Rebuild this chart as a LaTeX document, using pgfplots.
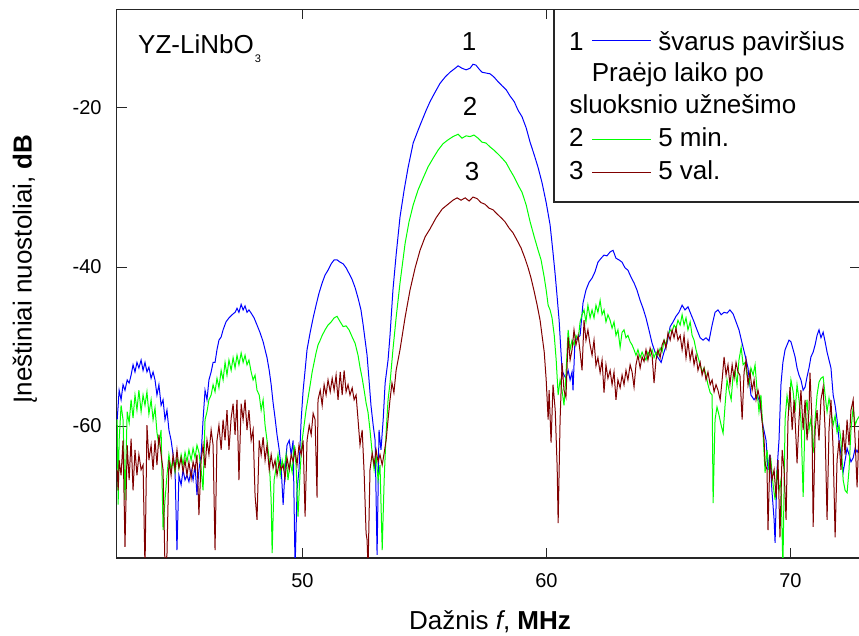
\documentclass[border=0pt]{standalone}
\usepackage{pgfplots}
\pgfplotsset{compat=1.18}
\usepackage{fontspec}
\setmainfont{Liberation Sans}
\definecolor{cblue}{RGB}{0,0,255}
\definecolor{cgreen}{RGB}{0,255,0}
\definecolor{cred}{RGB}{128,0,0}
\newcommand\fbig{\fontsize{26}{31}\selectfont}
\begin{document}
\begin{tikzpicture}
\begin{axis}[
 at={(0,0)}, anchor=south west,
 scale only axis, width=743.3pt, height=548.7pt,
 xmin=42.39, xmax=72.85, ymin=-76.6, ymax=-7.585,
 xtick={50,60,70}, ytick={-60,-40,-20},
 tick pos=both, tick align=inside, major tick length=10pt,
 axis line style={line width=1.2pt, black!85},
 every tick/.style={line width=1pt, black!85},
 clip mode=individual,
 /pgf/number format/assume math mode=true,
 tick label style={font=\fontsize{20}{24}\selectfont, inner sep=0pt},
 yticklabel style={xshift=-15pt},
 xticklabel style={yshift=-15pt},
 xlabel={Dažnis \textit{f}, \textbf{MHz}},
 ylabel={Įneštiniai nuostoliai, \textbf{dB}},
 xlabel style={font=\fbig, at={(axis description cs:0.5022,-0.1312)}, anchor=base, inner sep=0pt},
 ylabel style={font=\fbig, at={(axis description cs:-0.1234,0.5267)}, anchor=center, inner sep=0pt},
 every axis plot/.append style={line width=1pt},
]
\addplot[cblue] coordinates {(42.41,-59.2)(42.45,-57.4)(42.49,-55.5)(42.57,-56.7)(42.65,-54.8)(42.73,-55.5)(42.82,-54.2)(42.90,-54.6)(42.98,-53.6)(43.06,-52.3)(43.14,-53.2)(43.22,-52.0)(43.30,-52.7)(43.39,-51.7)(43.47,-53.0)(43.55,-52.0)(43.63,-53.2)(43.71,-52.6)(43.80,-54.0)(43.88,-53.2)(43.96,-54.2)(44.04,-56.1)(44.12,-54.8)(44.21,-57.4)(44.29,-56.7)(44.37,-59.2)(44.45,-58.0)(44.53,-60.5)(44.62,-61.8)(44.70,-63.6)(44.78,-65.5)(44.86,-75.6)(44.94,-66.2)(45.03,-67.4)(45.11,-65.5)(45.19,-66.8)(45.27,-66.2)(45.35,-67.0)(45.44,-65.5)(45.52,-66.8)(45.60,-64.9)(45.68,-68.7)(45.76,-65.5)(45.85,-63.6)(45.93,-59.2)(46.01,-55.5)(46.09,-56.7)(46.17,-54.2)(46.26,-53.2)(46.34,-52.0)(46.42,-52.0)(46.50,-50.4)(46.58,-49.2)(46.67,-48.8)(46.75,-47.9)(46.87,-46.9)(46.99,-46.4)(47.12,-46.0)(47.24,-45.7)(47.32,-45.2)(47.40,-45.7)(47.49,-44.7)(47.57,-45.4)(47.65,-44.9)(47.73,-45.7)(47.81,-45.4)(47.90,-45.8)(48.02,-46.4)(48.14,-47.3)(48.27,-48.3)(48.39,-49.4)(48.47,-50.4)(48.55,-51.4)(48.64,-53.0)(48.72,-54.8)(48.80,-57.1)(48.88,-59.0)(48.96,-61.1)(49.05,-63.0)(49.13,-65.3)(49.21,-69.9)(49.29,-65.5)(49.37,-62.4)(49.46,-61.8)(49.54,-63.6)(49.62,-61.8)(49.70,-78.0)(49.78,-68.1)(49.86,-65.5)(49.95,-59.2)(50.03,-55.5)(50.11,-53.0)(50.19,-50.4)(50.32,-48.2)(50.44,-46.4)(50.56,-44.8)(50.68,-43.3)(50.81,-42.0)(50.93,-41.0)(51.05,-40.4)(51.18,-39.6)(51.30,-39.1)(51.42,-39.1)(51.55,-39.4)(51.67,-39.6)(51.79,-40.1)(51.91,-40.8)(52.04,-41.6)(52.16,-42.6)(52.28,-43.9)(52.40,-45.4)(52.49,-47.3)(52.57,-49.2)(52.65,-51.1)(52.73,-54.2)(52.81,-57.4)(52.90,-59.9)(52.98,-61.8)(53.06,-76.2)(53.14,-60.5)(53.22,-63.0)(53.31,-59.2)(53.39,-54.6)(53.51,-51.7)(53.59,-48.6)(53.71,-42.9)(53.84,-38.5)(54.00,-33.7)(54.17,-30.3)(54.33,-27.5)(54.54,-24.4)(54.74,-22.8)(54.91,-21.5)(55.07,-20.3)(55.23,-19.2)(55.44,-18.0)(55.64,-16.9)(55.85,-16.1)(56.05,-15.5)(56.26,-15.0)(56.38,-14.7)(56.54,-15.0)(56.71,-15.2)(56.87,-15.0)(56.99,-14.5)(57.11,-14.6)(57.24,-15.1)(57.36,-15.5)(57.52,-15.6)(57.69,-15.7)(57.85,-16.1)(58.02,-16.7)(58.18,-17.2)(58.35,-17.7)(58.51,-18.5)(58.68,-19.2)(58.84,-20.3)(59.00,-21.1)(59.17,-22.5)(59.33,-24.3)(59.50,-25.9)(59.66,-27.5)(59.82,-29.4)(59.99,-31.9)(60.15,-34.7)(60.27,-38.2)(60.36,-41.0)(60.44,-43.8)(60.52,-46.7)(60.56,-48.8)(60.64,-53.0)(60.72,-53.6)(60.80,-54.0)(60.89,-53.0)(60.97,-54.2)(61.05,-53.2)(61.09,-55.5)(61.17,-49.2)(61.30,-48.9)(61.38,-48.6)(61.50,-44.5)(61.62,-42.9)(61.75,-41.9)(61.87,-41.4)(61.99,-40.6)(62.11,-39.4)(62.24,-38.9)(62.36,-38.5)(62.48,-38.6)(62.61,-38.1)(62.73,-37.9)(62.85,-38.9)(62.97,-39.1)(63.10,-39.4)(63.22,-40.1)(63.34,-40.4)(63.47,-41.3)(63.59,-42.0)(63.71,-42.9)(63.84,-44.2)(63.96,-45.2)(64.08,-46.4)(64.20,-47.9)(64.33,-49.6)(64.45,-50.7)(64.57,-51.4)(64.70,-52.0)(64.82,-50.7)(64.94,-49.6)(65.07,-47.5)(65.19,-46.9)(65.31,-46.2)(65.43,-45.7)(65.56,-44.8)(65.68,-45.4)(65.80,-45.0)(65.93,-46.0)(66.05,-46.9)(66.17,-47.9)(66.30,-48.9)(66.42,-49.2)(66.54,-48.9)(66.66,-49.3)(66.79,-47.3)(66.91,-45.7)(67.03,-45.4)(67.16,-46.0)(67.28,-45.7)(67.40,-45.8)(67.52,-45.4)(67.65,-45.9)(67.77,-46.9)(67.89,-47.9)(68.02,-49.6)(68.14,-51.1)(68.26,-52.7)(68.38,-56.1)(68.51,-56.7)(68.63,-56.1)(68.75,-57.0)(68.87,-59.9)(69.00,-61.8)(69.08,-65.5)(69.16,-63.6)(69.24,-68.1)(69.33,-71.8)(69.37,-74.7)(69.45,-65.5)(69.53,-61.8)(69.61,-54.8)(69.69,-52.0)(69.78,-50.4)(69.86,-49.8)(69.94,-49.2)(70.02,-49.4)(70.11,-50.4)(70.19,-51.3)(70.27,-52.7)(70.35,-53.6)(70.43,-54.2)(70.52,-55.5)(70.60,-55.1)(70.68,-53.8)(70.76,-52.7)(70.84,-51.3)(70.93,-50.7)(71.01,-49.8)(71.09,-48.6)(71.17,-47.9)(71.25,-48.9)(71.34,-48.2)(71.42,-49.4)(71.50,-50.7)(71.58,-51.7)(71.66,-52.7)(71.75,-56.1)(71.83,-57.4)(71.91,-59.2)(71.99,-61.8)(72.07,-63.6)(72.16,-65.8)(72.24,-64.3)(72.32,-62.8)(72.40,-63.6)(72.48,-64.5)(72.57,-64.0)(72.65,-62.8)(72.73,-63.3)(72.86,-62.4)};
\addplot[cgreen] coordinates {(42.41,-59.2)(42.45,-69.9)(42.49,-61.8)(42.57,-57.4)(42.65,-59.2)(42.73,-69.3)(42.82,-58.2)(42.90,-59.6)(42.98,-56.7)(43.06,-59.0)(43.14,-56.1)(43.22,-58.0)(43.30,-55.5)(43.39,-58.2)(43.47,-56.1)(43.55,-57.4)(43.63,-55.7)(43.71,-58.5)(43.80,-56.7)(43.88,-59.2)(43.96,-57.7)(44.04,-60.8)(44.12,-62.4)(44.21,-60.5)(44.29,-73.1)(44.37,-69.3)(44.45,-66.2)(44.53,-63.6)(44.62,-65.5)(44.70,-64.3)(44.78,-65.8)(44.86,-64.0)(44.94,-65.3)(45.03,-63.6)(45.11,-64.9)(45.19,-63.3)(45.27,-64.5)(45.35,-63.0)(45.44,-64.3)(45.52,-62.8)(45.60,-64.0)(45.68,-62.4)(45.76,-63.3)(45.85,-65.5)(45.93,-68.1)(46.01,-59.2)(46.09,-58.2)(46.17,-56.7)(46.26,-56.1)(46.34,-54.8)(46.42,-55.7)(46.50,-54.0)(46.58,-55.2)(46.67,-53.0)(46.75,-54.2)(46.83,-52.0)(46.91,-53.6)(46.99,-51.7)(47.08,-53.0)(47.16,-51.4)(47.24,-52.7)(47.32,-51.1)(47.40,-52.3)(47.49,-50.8)(47.57,-52.0)(47.65,-51.1)(47.73,-52.3)(47.81,-51.7)(47.90,-53.2)(47.98,-54.2)(48.06,-53.6)(48.14,-55.5)(48.23,-56.1)(48.31,-58.0)(48.39,-56.7)(48.47,-59.9)(48.55,-61.8)(48.64,-64.3)(48.72,-69.3)(48.76,-76.0)(48.84,-66.8)(48.92,-65.3)(49.00,-63.6)(49.09,-66.2)(49.17,-64.3)(49.25,-65.5)(49.33,-63.6)(49.41,-66.8)(49.50,-64.5)(49.58,-65.8)(49.66,-62.4)(49.74,-64.9)(49.82,-71.4)(49.91,-65.5)(49.99,-61.8)(50.07,-59.9)(50.15,-58.0)(50.23,-56.5)(50.32,-54.8)(50.40,-53.2)(50.48,-52.0)(50.56,-50.8)(50.64,-49.8)(50.73,-49.2)(50.81,-48.6)(50.93,-47.9)(51.05,-47.3)(51.18,-46.9)(51.30,-46.4)(51.42,-46.2)(51.55,-46.9)(51.67,-47.5)(51.79,-47.4)(51.91,-47.9)(52.04,-48.8)(52.16,-49.6)(52.28,-51.1)(52.36,-52.6)(52.45,-54.0)(52.53,-55.5)(52.61,-57.1)(52.69,-58.3)(52.77,-60.5)(52.86,-63.4)(52.94,-65.5)(53.02,-63.6)(53.10,-66.8)(53.18,-64.9)(53.27,-75.6)(53.35,-66.8)(53.43,-60.9)(53.51,-56.7)(53.59,-54.6)(53.71,-50.4)(53.84,-46.4)(54.00,-42.0)(54.21,-37.0)(54.37,-34.3)(54.54,-32.2)(54.74,-30.3)(54.95,-28.8)(55.15,-27.4)(55.36,-26.3)(55.56,-25.3)(55.76,-24.5)(55.97,-24.0)(56.17,-23.6)(56.38,-23.3)(56.54,-23.8)(56.71,-23.5)(56.87,-23.6)(57.03,-23.4)(57.20,-23.8)(57.36,-24.3)(57.52,-24.4)(57.69,-24.9)(57.85,-25.3)(58.02,-25.8)(58.18,-26.3)(58.35,-26.9)(58.51,-27.8)(58.68,-28.7)(58.84,-29.7)(59.00,-30.6)(59.17,-32.2)(59.33,-34.3)(59.50,-36.2)(59.66,-37.9)(59.78,-39.1)(59.91,-41.3)(59.99,-42.9)(60.07,-44.8)(60.15,-45.4)(60.23,-46.4)(60.32,-48.6)(60.40,-51.7)(60.48,-56.1)(60.56,-54.2)(60.64,-55.5)(60.72,-57.4)(60.80,-53.6)(60.89,-47.9)(60.97,-50.4)(61.05,-49.2)(61.13,-49.8)(61.21,-48.6)(61.30,-49.2)(61.38,-46.9)(61.46,-46.0)(61.54,-45.4)(61.62,-46.9)(61.70,-44.8)(61.79,-46.4)(61.87,-45.4)(61.95,-46.4)(62.03,-44.8)(62.11,-45.7)(62.20,-44.2)(62.28,-46.0)(62.36,-45.4)(62.44,-46.9)(62.52,-46.0)(62.61,-46.7)(62.69,-47.7)(62.77,-46.9)(62.85,-48.6)(62.93,-47.9)(63.02,-50.1)(63.10,-48.2)(63.18,-47.9)(63.26,-48.9)(63.34,-48.6)(63.43,-49.4)(63.51,-49.8)(63.59,-50.4)(63.67,-51.1)(63.75,-50.4)(63.84,-51.4)(63.92,-50.7)(64.00,-51.3)(64.08,-51.7)(64.16,-50.7)(64.25,-51.2)(64.33,-50.4)(64.41,-51.4)(64.49,-50.7)(64.57,-51.1)(64.66,-50.2)(64.74,-50.7)(64.82,-49.2)(64.90,-49.8)(64.98,-48.6)(65.07,-47.9)(65.15,-48.2)(65.23,-47.3)(65.31,-47.7)(65.39,-46.7)(65.48,-47.3)(65.56,-46.0)(65.64,-47.3)(65.72,-46.4)(65.80,-47.9)(65.89,-46.9)(65.97,-48.6)(66.05,-49.2)(66.13,-50.4)(66.21,-51.3)(66.30,-52.3)(66.38,-53.2)(66.46,-52.7)(66.54,-53.6)(66.62,-54.8)(66.71,-55.8)(66.79,-56.1)(66.83,-69.7)(66.91,-59.2)(66.99,-57.6)(67.07,-58.6)(67.16,-59.9)(67.24,-60.9)(67.32,-57.4)(67.40,-54.2)(67.48,-55.5)(67.57,-56.7)(67.65,-53.6)(67.73,-53.0)(67.81,-54.8)(67.89,-51.7)(67.98,-50.1)(68.06,-52.3)(68.14,-52.0)(68.22,-53.6)(68.30,-54.8)(68.38,-52.7)(68.47,-53.6)(68.55,-52.3)(68.63,-55.5)(68.71,-58.2)(68.79,-56.1)(68.87,-60.5)(68.96,-65.9)(69.04,-63.0)(69.12,-65.5)(69.20,-64.3)(69.29,-67.4)(69.37,-69.3)(69.45,-65.5)(69.53,-68.1)(69.61,-66.8)(69.69,-78.0)(69.78,-59.2)(69.86,-56.2)(69.94,-58.0)(70.02,-54.2)(70.11,-55.7)(70.19,-58.2)(70.27,-54.8)(70.35,-56.7)(70.43,-59.2)(70.52,-68.9)(70.60,-58.7)(70.68,-56.7)(70.76,-60.5)(70.84,-59.0)(70.93,-63.4)(71.01,-59.2)(71.09,-56.1)(71.17,-54.5)(71.25,-54.0)(71.34,-53.8)(71.42,-56.1)(71.50,-58.2)(71.58,-56.5)(71.66,-58.0)(71.75,-59.9)(71.83,-58.7)(71.91,-60.8)(71.99,-59.9)(72.07,-61.8)(72.16,-66.8)(72.24,-68.1)(72.32,-68.4)(72.40,-65.5)(72.48,-60.5)(72.57,-57.6)(72.65,-59.9)(72.73,-59.2)(72.86,-58.6)};
\addplot[cred] coordinates {(42.41,-65.5)(42.45,-68.1)(42.49,-64.3)(42.57,-66.2)(42.65,-61.8)(42.73,-75.2)(42.82,-62.4)(42.90,-66.8)(42.98,-61.6)(43.06,-68.1)(43.14,-63.0)(43.22,-66.2)(43.30,-63.6)(43.39,-65.5)(43.47,-64.9)(43.55,-78.0)(43.63,-59.9)(43.71,-64.3)(43.80,-62.4)(43.88,-65.5)(43.96,-61.8)(44.04,-64.9)(44.12,-61.1)(44.21,-63.6)(44.29,-65.5)(44.37,-78.0)(44.45,-76.2)(44.53,-64.3)(44.62,-66.2)(44.70,-63.6)(44.78,-65.5)(44.86,-63.0)(44.94,-65.3)(45.03,-64.0)(45.11,-65.8)(45.19,-64.3)(45.27,-66.2)(45.35,-64.5)(45.44,-66.6)(45.52,-64.5)(45.60,-65.5)(45.68,-63.6)(45.76,-71.2)(45.85,-64.3)(45.93,-62.4)(46.01,-65.3)(46.09,-61.8)(46.17,-63.6)(46.26,-60.5)(46.34,-62.4)(46.42,-75.6)(46.50,-61.8)(46.58,-59.9)(46.67,-63.0)(46.75,-59.2)(46.83,-61.8)(46.91,-58.0)(46.99,-63.0)(47.08,-59.0)(47.16,-57.2)(47.24,-61.1)(47.32,-56.7)(47.40,-66.8)(47.49,-57.2)(47.57,-59.2)(47.65,-56.7)(47.73,-60.5)(47.81,-58.0)(47.90,-61.8)(47.98,-60.5)(48.06,-68.7)(48.14,-71.8)(48.23,-61.8)(48.31,-63.6)(48.39,-61.4)(48.47,-64.3)(48.55,-62.4)(48.64,-65.5)(48.72,-63.6)(48.80,-65.3)(48.88,-64.3)(48.96,-66.2)(49.05,-64.5)(49.13,-65.5)(49.21,-64.9)(49.29,-66.6)(49.37,-64.0)(49.46,-65.5)(49.54,-63.6)(49.62,-64.5)(49.70,-63.0)(49.78,-64.9)(49.86,-62.4)(49.95,-63.6)(50.03,-61.8)(50.11,-71.4)(50.19,-61.8)(50.28,-59.9)(50.36,-61.1)(50.44,-58.4)(50.52,-59.2)(50.60,-69.0)(50.64,-56.7)(50.73,-55.5)(50.81,-57.4)(50.89,-54.8)(50.97,-56.1)(51.05,-54.2)(51.14,-55.7)(51.22,-54.0)(51.30,-55.5)(51.38,-53.6)(51.46,-56.7)(51.55,-53.2)(51.63,-56.1)(51.71,-53.0)(51.79,-55.7)(51.87,-54.8)(51.95,-56.1)(52.04,-55.2)(52.12,-56.7)(52.20,-56.1)(52.28,-59.2)(52.36,-62.4)(52.45,-60.5)(52.53,-65.9)(52.61,-73.5)(52.65,-74.3)(52.69,-78.0)(52.77,-65.5)(52.86,-63.4)(52.94,-64.9)(53.02,-63.0)(53.10,-64.5)(53.18,-63.6)(53.27,-64.9)(53.35,-63.4)(53.43,-61.8)(53.51,-59.2)(53.59,-56.7)(53.67,-54.6)(53.75,-55.8)(53.84,-53.0)(54.00,-50.4)(54.21,-46.3)(54.41,-42.9)(54.62,-40.1)(54.82,-37.9)(55.03,-36.2)(55.23,-35.2)(55.48,-33.8)(55.73,-32.7)(55.97,-32.1)(56.17,-31.6)(56.34,-31.3)(56.50,-31.6)(56.67,-31.3)(56.83,-31.7)(56.99,-31.2)(57.16,-31.4)(57.32,-31.9)(57.48,-32.1)(57.65,-32.6)(57.81,-32.8)(57.97,-33.3)(58.14,-33.8)(58.30,-34.3)(58.47,-35.1)(58.63,-35.7)(58.79,-36.6)(58.96,-37.6)(59.12,-38.9)(59.25,-40.1)(59.37,-41.4)(59.50,-43.1)(59.62,-44.8)(59.74,-46.7)(59.82,-48.6)(59.91,-50.7)(59.99,-54.2)(60.07,-59.2)(60.11,-55.5)(60.19,-62.1)(60.27,-54.8)(60.36,-58.0)(60.44,-65.2)(60.48,-72.2)(60.56,-59.2)(60.64,-52.1)(60.72,-55.5)(60.80,-56.4)(60.89,-48.8)(60.97,-51.7)(61.05,-50.4)(61.13,-47.9)(61.21,-49.8)(61.30,-48.6)(61.38,-50.7)(61.46,-53.0)(61.54,-46.7)(61.62,-49.2)(61.70,-47.9)(61.79,-49.8)(61.87,-51.1)(61.95,-49.2)(62.03,-52.4)(62.11,-51.4)(62.20,-53.3)(62.28,-51.7)(62.36,-55.8)(62.44,-52.3)(62.52,-54.0)(62.61,-53.0)(62.69,-54.8)(62.77,-53.2)(62.85,-56.7)(62.93,-54.2)(63.02,-55.2)(63.10,-53.6)(63.18,-54.8)(63.26,-53.0)(63.34,-54.2)(63.43,-52.3)(63.51,-53.2)(63.59,-55.1)(63.67,-52.3)(63.75,-51.1)(63.84,-52.7)(63.92,-51.3)(64.00,-51.9)(64.08,-50.4)(64.16,-51.7)(64.25,-50.2)(64.33,-51.1)(64.41,-54.6)(64.49,-51.7)(64.57,-50.4)(64.66,-51.4)(64.74,-49.8)(64.82,-49.2)(64.90,-50.2)(64.98,-48.3)(65.07,-49.2)(65.15,-47.9)(65.23,-48.9)(65.31,-47.7)(65.39,-49.2)(65.48,-48.6)(65.56,-50.4)(65.64,-48.6)(65.72,-51.4)(65.80,-49.4)(65.89,-51.7)(65.97,-50.4)(66.05,-52.3)(66.13,-51.1)(66.21,-53.0)(66.30,-52.0)(66.38,-53.6)(66.46,-52.7)(66.54,-54.2)(66.62,-53.2)(66.71,-54.8)(66.79,-54.2)(66.87,-55.7)(66.95,-54.8)(67.03,-55.5)(67.12,-56.7)(67.20,-54.2)(67.28,-51.3)(67.36,-53.6)(67.44,-52.3)(67.52,-54.8)(67.61,-52.3)(67.69,-54.0)(67.77,-52.0)(67.85,-53.2)(67.93,-53.6)(68.02,-59.2)(68.10,-53.2)(68.18,-51.7)(68.26,-54.8)(68.34,-53.2)(68.43,-55.5)(68.51,-54.2)(68.59,-56.7)(68.67,-55.5)(68.75,-56.7)(68.83,-59.2)(68.92,-61.8)(68.96,-64.7)(69.04,-65.5)(69.08,-73.1)(69.16,-63.6)(69.24,-66.8)(69.33,-65.5)(69.41,-69.0)(69.49,-64.3)(69.57,-74.0)(69.66,-63.0)(69.74,-65.5)(69.82,-71.8)(69.90,-59.2)(69.98,-55.1)(70.07,-60.5)(70.15,-56.7)(70.23,-61.8)(70.27,-64.7)(70.35,-59.2)(70.43,-55.5)(70.52,-60.5)(70.60,-56.7)(70.68,-61.8)(70.76,-58.0)(70.80,-53.3)(70.88,-59.2)(70.93,-72.7)(71.01,-60.5)(71.09,-58.0)(71.17,-61.8)(71.25,-56.7)(71.34,-55.1)(71.42,-60.5)(71.50,-71.8)(71.58,-60.5)(71.66,-56.7)(71.75,-63.0)(71.83,-74.0)(71.91,-64.3)(71.99,-61.8)(72.07,-65.5)(72.16,-60.5)(72.24,-63.6)(72.32,-59.2)(72.40,-62.4)(72.48,-58.0)(72.57,-56.7)(72.65,-61.8)(72.73,-67.7)(72.81,-60.5)};
% curve labels
\node[font=\fbig, inner sep=0pt] at (axis cs:56.83,-11.7) {1};
\node[font=\fbig, inner sep=0pt] at (axis cs:56.87,-19.75) {2};
\node[font=\fbig, inner sep=0pt] at (axis cs:56.95,-28.05) {3};
% substrate label
\node[font=\fbig, inner sep=0pt, anchor=base west] at (axis description cs:0.0287,0.9198) {YZ-LiNbO\kern1pt\raisebox{-9pt}{\fontsize{11}{13}\selectfont 3}};
% legend
\draw[line width=1.2pt, black!85, fill=white] (axis description cs:0.5883,0.6488) rectangle (axis description cs:1.05,1.0);
\begin{scope}[every node/.style={font=\fbig, inner sep=0pt, anchor=base west}]
\node at (axis description cs:0.6085,0.9258) {1};
\draw[cblue, line width=1.2pt] (axis description cs:0.6396,0.9428) -- (axis description cs:0.7189,0.9428);
\node at (axis description cs:0.7284,0.9258) {švarus paviršius};
\node at (axis description cs:0.6390,0.8681) {Praėjo laiko po};
\node at (axis description cs:0.6089,0.8105) {sluoksnio užnešimo};
\node at (axis description cs:0.6085,0.7496) {2};
\draw[cgreen, line width=1.2pt] (axis description cs:0.6396,0.7630) -- (axis description cs:0.7189,0.7630);
\node at (axis description cs:0.7284,0.7496) {5 min.};
\node at (axis description cs:0.6085,0.6889) {3};
\draw[cred, line width=1.2pt] (axis description cs:0.6396,0.7022) -- (axis description cs:0.7189,0.7022);
\node at (axis description cs:0.7284,0.6889) {5 val.};
\end{scope}
\end{axis}
\pgfresetboundingbox
\path[use as bounding box] (-116.7pt,-78pt) rectangle (742.3pt,558pt);
\end{tikzpicture}
\end{document}
